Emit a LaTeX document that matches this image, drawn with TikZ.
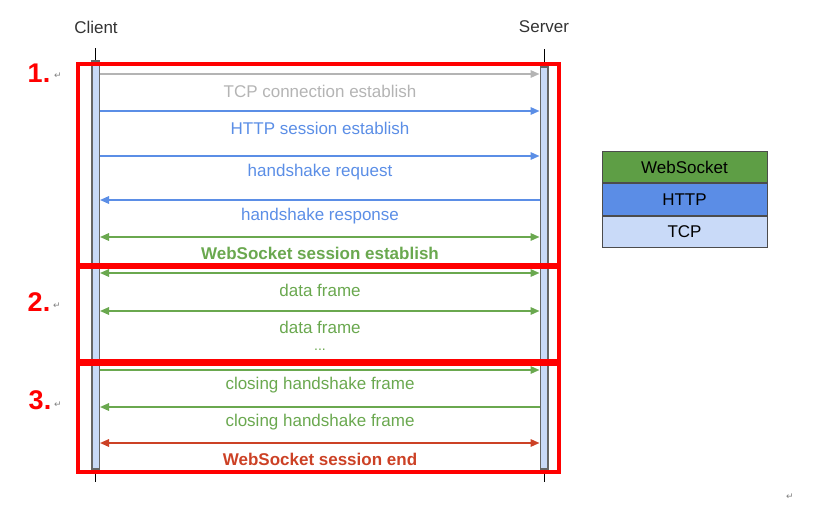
\documentclass[tikz,border=0pt]{standalone}
\usepackage{fontspec}
\setmainfont{Liberation Sans}
\newfontfamily\symfont{DejaVu Sans}
\usetikzlibrary{positioning, arrows.meta}

\definecolor{tcpgray}{HTML}{B4B4B4}
\definecolor{httpblue}{HTML}{5B8EE6}
\definecolor{wsgreen}{HTML}{6AA84F}
\definecolor{endred}{HTML}{CC4125}
\definecolor{barblue}{HTML}{C9DAF8}
\definecolor{wsfill}{HTML}{5E9E45}
\definecolor{httpfill}{HTML}{5B8DE6}

\begin{document}
\begin{tikzpicture}[x=1pt, y=-1pt,
    font=\fontsize{17}{20}\selectfont,
    bar/.style={draw=black!60, fill=barblue, line width=1.5pt, minimum width=7.5pt, inner sep=0pt},
    msg/.style={line width=1.6pt},
    fwd/.style={-{Triangle[length=9pt, width=7.5pt]}},
    bwd/.style={{Triangle[length=9pt, width=7.5pt]}-},
    dbl/.style={{Triangle[length=9pt, width=7.5pt]}-{Triangle[length=9pt, width=7.5pt]}},
    phase/.style={draw=red, line width=3.2pt},
    num/.style={text=red, font=\fontsize{27}{30}\selectfont\bfseries},
    ret/.style={text=gray, font=\symfont\fontsize{9}{10}\selectfont},
    layer/.style={draw=black!70, line width=1pt, minimum width=165pt, minimum height=31.5pt, inner sep=0pt}
  ]
  \useasboundingbox (0,0) rectangle (821,505);

  % participants
  \node[text=black!80] (client) at (96,27) {Client};
  \node[text=black!80] (server) at (544,27) {Server};
  \node[bar, minimum height=408pt] (cbar) at (95.5,265) {};
  \node[bar, minimum height=402pt] (sbar) at (544,268) {};
  \draw[line width=1pt] (cbar.north) -- ++(0,-12) (cbar.south) -- ++(0,12);
  \draw[line width=1pt] (sbar.north) -- ++(0,-17) (sbar.south) -- ++(0,12);

  % messages
  \foreach \y/\tip/\col/\txt/\ty in {
      74/fwd/tcpgray/{TCP connection establish}/91,
      111/fwd/httpblue/{HTTP session establish}/128,
      156/fwd/httpblue/{handshake request}/172,
      200/bwd/httpblue/{handshake response}/216,
      237/dbl/wsgreen/{\textbf{WebSocket session establish}}/253,
      273/dbl/wsgreen/{data frame}/290,
      311/dbl/wsgreen/{data frame}/327,
      370/fwd/wsgreen/{closing handshake frame}/385,
      407/bwd/wsgreen/{closing handshake frame}/422,
      443/dbl/endred/{\textbf{WebSocket session end}}/459} {
    \draw[msg, \tip, \col] (cbar.east |- 0,\y) -- (sbar.west |- 0,\y);
    \node[text=\col] (m\y) at (320,\ty) {\txt};
  }
  \node[text=wsgreen, font=\fontsize{14}{16}\selectfont] (more) at (320,350) {...};

  % phases
  \draw[phase] (78,64) rectangle (559,265);
  \draw[phase] (78,267) rectangle (559,361);
  \draw[phase] (78,364) rectangle (559,472);
  \node[num] (p1) at (39,73) {1.};
  \node[num] (p2) at (39,302) {2.};
  \node[num] (p3) at (40,400) {3.};
  \node[ret] (r1) at (58,76) {↵};
  \node[ret] (r2) at (57,306) {↵};
  \node[ret] (r3) at (58,405) {↵};
  \node[ret] (r4) at (790,497) {↵};

  % protocol stack
  \node[layer, fill=wsfill] (ws) at (684.5,167) {WebSocket};
  \node[layer, fill=httpfill, below=0pt of ws] (http) {HTTP};
  \node[layer, fill=barblue, below=0pt of http] (tcp) {TCP};
\end{tikzpicture}
\end{document}
